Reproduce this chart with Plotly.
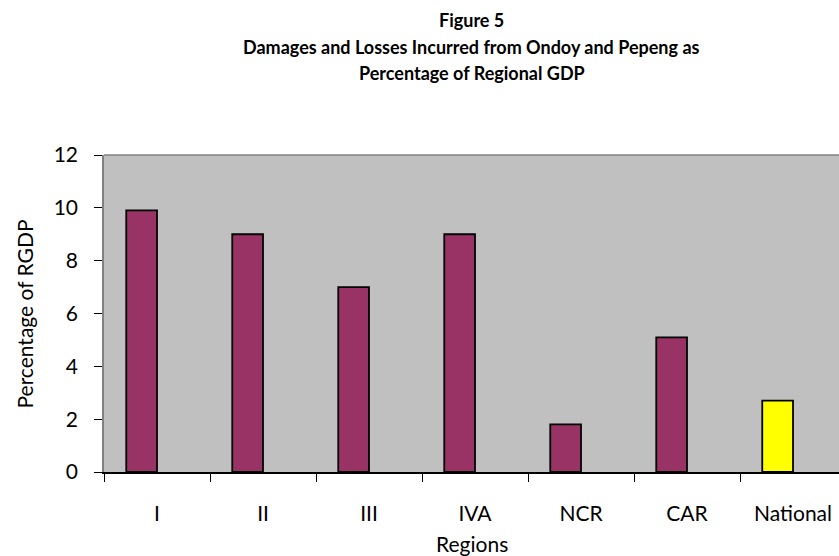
import plotly.graph_objects as go

regions = ["I", "II", "III", "IVA", "NCR", "CAR", "National"]
values = [9.9, 9.0, 7.0, 9.0, 1.8, 5.1, 2.7]
colors = ["#993366", "#993366", "#993366", "#993366", "#993366", "#993366", "#FFFF00"]
y_ticks = [0, 2, 4, 6, 8, 10, 12]
title_lines = ["Figure 5",
               "Damages and Losses Incurred from Ondoy and Pepeng as",
               "Percentage of Regional GDP"]

FONT = "Lato"

fig = go.Figure()
fig.add_trace(go.Bar(
    x=regions, y=values,
    marker=dict(color=colors, line=dict(color="black", width=1.8)),
    width=0.29, offset=-0.29,
))

annotations = []
for yy, line in zip([1.426, 1.341, 1.259], title_lines):
    annotations.append(dict(text="<b>%s</b>" % line, x=0.5, y=yy, xref="paper", yref="paper",
                            showarrow=False, xanchor="center", yanchor="middle",
                            font=dict(family=FONT, size=18, color="black")))
annotations.append(dict(text="Percentage of RGDP", x=-0.1075, y=0.5, xref="paper", yref="paper",
                        textangle=-90, showarrow=False, xanchor="center", yanchor="middle",
                        font=dict(family=FONT, size=21, color="black")))
annotations.append(dict(text="Regions", x=0.5, y=-0.225, xref="paper", yref="paper",
                        showarrow=False, xanchor="center", yanchor="middle",
                        font=dict(family=FONT, size=21, color="black")))

fig.update_layout(
    width=839, height=556,
    margin=dict(l=104, r=0, t=155, b=84),
    paper_bgcolor="white", plot_bgcolor="#C0C0C0",
    showlegend=False,
    annotations=annotations,
    shapes=[dict(type="line", xref="paper", yref="paper", x0=0, x1=1, y0=1, y1=1,
                 line=dict(color="#808080", width=1.5), layer="below")],
    xaxis=dict(range=[-0.5, 6.434], tickson="boundaries", ticks="outside", ticklen=8,
               tickcolor="black", showline=True, linecolor="black", linewidth=1.5,
               showgrid=False, tickfont=dict(family=FONT, size=21, color="black"),
               ticklabelstandoff=22, automargin=False),
    yaxis=dict(range=[0, 12], tickvals=y_ticks, ticks="outside", ticklen=8, tickcolor="black",
               showline=True, linecolor="#808080", linewidth=1.5, showgrid=False, zeroline=False,
               tickfont=dict(family=FONT, size=21, color="black"), ticklabelstandoff=12,
               automargin=False),
)

fig.write_html("out.html", config={"displayModeBar": False},
               post_script="document.body.style.margin='0';document.body.style.overflow='hidden';")
